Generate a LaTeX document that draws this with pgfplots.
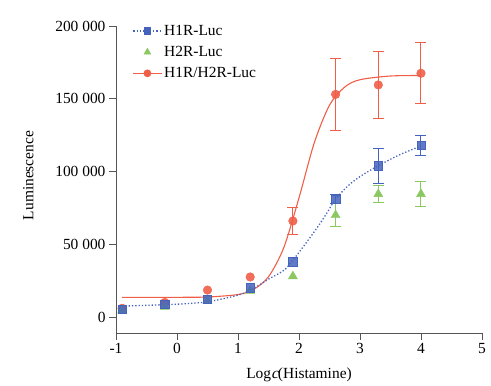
\documentclass[border=0pt]{standalone}
\usepackage{pgfplots}
\pgfplotsset{compat=1.18}
\usepackage{fontspec}
\setmainfont{Liberation Serif}
\newfontface\slantc{Liberation Serif}[FakeSlant=0.25]
\definecolor{cblue}{HTML}{4563BC}
\definecolor{cgreen}{HTML}{8CC862}
\definecolor{cred}{HTML}{F05E48}
\definecolor{caxis}{HTML}{555555}
\newcommand{\bigf}{\fontsize{15.5}{18}\selectfont}
\begin{document}
\begin{tikzpicture}[font=\bigf]
\begin{axis}[
  scale only axis, width=366bp, height=307bp,
  xmin=-1, xmax=5, ymin=-11000, ymax=200000,
  axis lines=left, axis line style={caxis, line width=0.8pt, -},
  xtick={-1,0,...,5}, ytick={0,50000,100000,150000,200000},
  tick align=outside, major tick length=7bp,
  tick style={caxis, line width=0.8pt},
  xticklabels={-1,0,1,2,3,4,5},
  /pgf/number format/assume math mode=true,
  /pgf/number format/1000 sep={\ },
  scaled y ticks=false,
  yticklabel style={/pgf/number format/fixed, font=\bigf},
  xticklabel style={font=\bigf},
  label style={font=\bigf},
  xlabel={Log{\slantc c}(Histamine)},
  ylabel={Luminescence},
  xlabel style={yshift=-7bp},
  ylabel style={yshift=15bp, xshift=4bp},
  legend style={draw=none, fill=none, at={(axis cs:-0.78,203500)}, anchor=north west, row sep=5.5bp, font=\bigf},
  legend cell align=left,
  legend image code/.code={\draw[mark repeat=2, mark phase=2, #1] plot coordinates {(0cm,0cm) (0.5cm,0cm) (1.0cm,0cm)};},
  clip=false,
]
% fitted curves
\addplot[cred, line width=1.1pt, smooth, forget plot] coordinates {
(-0.9,13500) (0,13530) (0.5,13750) (1.0,15440) (1.25,18850) (1.5,27660) (1.75,47620) (2.0,81890) (2.25,119660) (2.5,145530) (2.75,158050) (3.0,163080) (3.5,165630) (4.0,165950)};
\addplot[cblue, line width=1.3pt, dotted, smooth, forget plot] coordinates {
(-0.9,7500) (0,8800) (0.5,10500) (1.0,15000) (1.25,19500) (1.5,26000) (1.75,32000) (1.9,39000) (2.1,50000) (2.3,61500) (2.45,71000) (2.6,81000) (2.8,90000) (3.0,96500) (3.3,104000) (3.65,111500) (4.0,117500)};
% data points
\addplot[cred, only marks, mark=*, mark size=4.3bp, mark options={draw=none, fill=cred, fill opacity=0.9}, forget plot,
  error bars/.cd, y dir=both, y explicit, error bar style={cred, line width=1pt}, error mark options={cred, mark size=5.5bp, line width=1pt, rotate=90}]
  coordinates {
(-0.9,6000) (-0.2,10000) (0.5,18500) (1.2,27500) (1.9,66000) +- (0,9000) (2.6,153000) +- (0,25000) (3.3,159500) +- (0,23000) (4.0,167500) +- (0,21000)};
\addplot[cgreen, only marks, mark=triangle*, mark size=5.2bp, mark options={draw=none, fill=cgreen}, forget plot,
  error bars/.cd, y dir=both, y explicit, error bar style={cgreen, line width=1pt}, error mark options={cgreen, mark size=5.5bp, line width=1pt, rotate=90}]
  coordinates {
(-0.9,4500) (-0.2,7000) (0.5,11000) (1.2,18000) (1.9,28000) (2.6,70000) +- (0,8000) (3.3,84500) +- (0,6000) (4.0,84500) +- (0,8500)};
\addplot[cblue, only marks, mark=square*, mark size=4.2bp, mark options={draw=none, fill=cblue, fill opacity=0.85}, forget plot,
  error bars/.cd, y dir=both, y explicit, error bar style={cblue, line width=1pt}, error mark options={cblue, mark size=5.5bp, line width=1pt, rotate=90}]
  coordinates {
(-0.9,5500) (-0.2,9000) (0.5,12400) (1.2,20000) (1.9,38000) (2.6,81000) +- (0,3000) (3.3,104000) +- (0,12000) (4.0,118000) +- (0,7000)};
% legend entries
\addlegendimage{cblue, line width=1.3pt, dotted, mark=square*, mark size=3.2bp, mark options={solid, fill=cblue, draw=none}}
\addlegendentry{H1R-Luc}
\addlegendimage{cgreen, only marks, mark=triangle*, mark size=4bp, mark options={draw=none, fill=cgreen}}
\addlegendentry{H2R-Luc}
\addlegendimage{cred, line width=1.1pt, mark=*, mark size=3.3bp, mark options={fill=cred, draw=none}}
\addlegendentry{H1R/H2R-Luc}
\end{axis}
\path[use as bounding box] (-116bp,-51bp) rectangle (375bp,333bp);
\end{tikzpicture}
\end{document}
